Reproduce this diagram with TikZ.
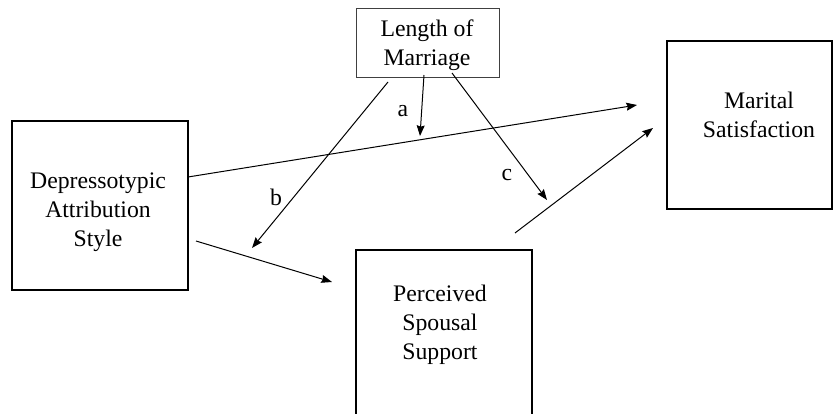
\documentclass[tikz,border=0pt]{standalone}
\usepackage{fontspec}
\setmainfont{Liberation Serif}
\usetikzlibrary{arrows.meta}

\tikzset{every picture/.style={line width=0.75pt}}
\tikzset{
	varbox/.style={draw, line width=2pt, inner sep=0pt},
	modbox/.style={draw=black!75, line width=0.6pt, inner sep=0pt},
	vartext/.style={align=center, inner sep=0pt, font=\fontsize{17.8}{21.8}\selectfont},
	pathlabel/.style={inner sep=0pt, font=\fontsize{17.8}{21.8}\selectfont},
	patharrow/.style={-{Stealth[length=8pt,width=6pt,inset=1pt]}}
}

\begin{document}
\begin{tikzpicture}[x=0.75pt,y=0.75pt,yscale=-1,xscale=1]
	\useasboundingbox (0,0) rectangle (833,414);
	\clip (0,0) rectangle (833,414);

	%Shape: Rectangle [id:lom]
	\node[modbox, minimum width=107.25pt, minimum height=51.75pt] (lom) at (427.5,42.5) {};
	%Shape: Rectangle [id:das]
	\node[varbox, minimum width=132pt, minimum height=126.75pt] (das) at (100,205.5) {};
	%Shape: Rectangle [id:ms]
	\node[varbox, minimum width=123.75pt, minimum height=126pt] (ms) at (749.5,125) {};
	%Shape: Rectangle [id:pss]
	\node[varbox, minimum width=132pt, minimum height=131.25pt] (pss) at (444,337.5) {};

	% Text Node
	\node[vartext] (lomtext) at (427,45.5) {Length of\\Marriage};
	% Text Node
	\node[vartext] (dastext) at (98,212.5) {Depressotypic\\Attribution\\Style};
	% Text Node
	\node[vartext] (mstext) at (759,114.5) {Marital\\Satisfaction};
	% Text Node
	\node[vartext] (psstext) at (440,324.5) {Perceived\\Spousal\\Support};

	% free ends of the paths
	\coordinate (aS) at (424,75);
	\coordinate (aE) at (420,136);
	\coordinate (bS) at (388,82);
	\coordinate (bE) at (252,248);
	\coordinate (cS) at (452,73);
	\coordinate (cE) at (547,200);
	\coordinate (dmS) at (188,177);
	\coordinate (dmE) at (637,105);
	\coordinate (dpS) at (196,241);
	\coordinate (dpE) at (332,282);
	\coordinate (pmS) at (515,233);
	\coordinate (pmE) at (653,128);

	%Straight Lines
	\draw[patharrow] (dmS) -- (dmE);
	\draw[patharrow] (dpS) -- (dpE);
	\draw[patharrow] (pmS) -- (pmE);
	\draw[patharrow] (aS) -- (aE);
	\draw[patharrow] (bS) -- (bE);
	\draw[patharrow] (cS) -- (cE);

	% Text Node
	\node[pathlabel] (alabel) at (403,111) {a};
	% Text Node
	\node[pathlabel] (blabel) at (276,197) {b};
	% Text Node
	\node[pathlabel] (clabel) at (507,175) {c};

\end{tikzpicture}
\end{document}
